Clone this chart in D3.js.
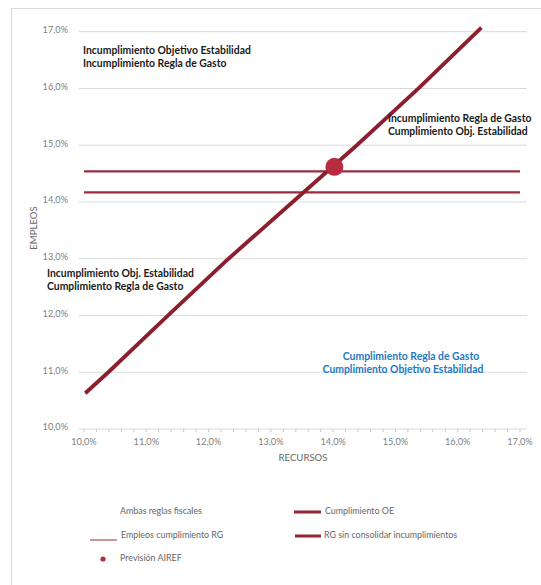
<!DOCTYPE html>
<html>
<head>
<meta charset="utf-8">
<script src="https://cdn.jsdelivr.net/npm/d3@7"></script>
<style>
  body { margin: 0; background: #fff; }
  svg text { font-family: "Lato", "Open Sans", sans-serif; }
</style>
</head>
<body>
<svg id="chart" width="541" height="585"></svg>
<script>
"use strict";

// Values (percent)
var xTicks = [10, 11, 12, 13, 14, 15, 16, 17];
var yTicks = [10, 11, 12, 13, 14, 15, 16, 17];

// Cumplimiento OE (diagonal)
var oeRecursos = [10.02, 10.39, 11.35, 12.32, 13.35, 14.38, 15.37, 16.38];
var oeEmpleos  = [10.63, 11.00, 12.00, 13.00, 14.00, 15.00, 16.00, 17.07];

// horizontal lines: Empleos cumplimiento RG / RG sin consolidar incumplimientos
var rgNames  = ["Empleos cumplimiento RG", "RG sin consolidar incumplimientos"];
var rgValues = [14.54, 14.17];
var rgFrom = 10, rgTo = 17;

// Previsión AIREF
var airefRecursos = 14.02;
var airefEmpleos = 14.62;

var legendNames = ["Ambas reglas fiscales", "Cumplimiento OE", "Empleos cumplimiento RG",
                   "RG sin consolidar incumplimientos", "Previsión AIREF"];

var fmt = function(v) { return d3.format(".1f")(v).replace(".", ",") + "%"; };

var svg = d3.select("#chart");

// frame
svg.append("rect")
	.attr("x", 11.5).attr("y", 8.5)
	.attr("width", 545).attr("height", 600)
	.attr("fill", "none").attr("stroke", "#d9d9d9");

var x = d3.scaleLinear().domain([10, 17]).range([84, 520]);
var y = d3.scaleLinear().domain([10, 17]).range([429, 31.7]);
var gridL = 79, gridR = 527;

// gridlines
svg.append("g").selectAll("line")
	.data(yTicks)
	.enter().append("line")
		.attr("x1", gridL).attr("x2", gridR)
		.attr("y1", function(d) { return y(d); })
		.attr("y2", function(d) { return y(d); })
		.attr("stroke", "#d9d9d9").attr("stroke-width", 1);

// y tick labels
svg.append("g").selectAll("text")
	.data(yTicks)
	.enter().append("text")
		.attr("x", 68)
		.attr("y", function(d) { return y(d) - 1; })
		.attr("text-anchor", "end")
		.attr("dominant-baseline", "middle")
		.attr("font-size", 9.2)
		.attr("fill", "#808080")
		.text(fmt);

// x axis minor ticks
var minor = d3.range(0, 36).map(function(i) { return 10 + i * 0.2; });
svg.append("g").selectAll("line")
	.data(minor)
	.enter().append("line")
		.attr("x1", function(d) { return x(d); })
		.attr("x2", function(d) { return x(d); })
		.attr("y1", y(10)).attr("y2", y(10) + 3)
		.attr("stroke", "#c8c8c8");

svg.append("g").selectAll("text")
	.data(xTicks)
	.enter().append("text")
		.attr("x", function(d) { return x(d); })
		.attr("y", 443)
		.attr("text-anchor", "middle")
		.attr("dominant-baseline", "middle")
		.attr("font-size", 9.2)
		.attr("fill", "#808080")
		.text(fmt);

// axis titles
svg.append("text")
	.attr("x", 303).attr("y", 459)
	.attr("text-anchor", "middle").attr("dominant-baseline", "middle")
	.attr("font-size", 9.6).attr("fill", "#666")
	.text("RECURSOS");
svg.append("text")
	.attr("transform", "translate(35,228) rotate(-90)")
	.attr("text-anchor", "middle").attr("dominant-baseline", "middle")
	.attr("font-size", 9.6).attr("fill", "#666")
	.text("EMPLEOS");

// horizontal RG lines
svg.append("g").selectAll("line")
	.data(rgValues)
	.enter().append("line")
		.attr("x1", x(rgFrom)).attr("x2", x(rgTo))
		.attr("y1", function(d) { return y(d); })
		.attr("y2", function(d) { return y(d); })
		.attr("stroke", "#9a2b3b").attr("stroke-width", 2.2);

// OE diagonal
var pts = oeRecursos.map(function(r, i) { return [r, oeEmpleos[i]]; });
svg.append("path")
	.datum(pts)
	.attr("d", d3.line().x(function(d) { return x(d[0]); }).y(function(d) { return y(d[1]); }))
	.attr("fill", "none")
	.attr("stroke", "#8c1f2e")
	.attr("stroke-width", 3.8);

// AIREF point
svg.append("circle")
	.attr("cx", x(airefRecursos)).attr("cy", y(airefEmpleos))
	.attr("r", 9)
	.attr("fill", "#b82c40");

// annotations (xs: one x per line)
var notes = [
	{ xs: [83, 83], y: 51, lines: ["Incumplimiento Objetivo Estabilidad", "Incumplimiento Regla de Gasto"], anchor: "start", color: "#1a1a1a" },
	{ xs: [388, 388], y: 119, lines: ["Incumplimiento Regla de Gasto", "Cumplimiento Obj. Estabilidad"], anchor: "start", color: "#1a1a1a" },
	{ xs: [47, 47], y: 274, lines: ["Incumplimiento Obj. Estabilidad", "Cumplimiento Regla de Gasto"], anchor: "start", color: "#1a1a1a" },
	{ xs: [411, 403], y: 357, lines: ["Cumplimiento Regla de Gasto", "Cumplimiento Objetivo Estabilidad"], anchor: "middle", color: "#2279c4" }
];
notes.forEach(function(n) {
	var t = svg.append("text")
		.attr("font-size", 10.4).attr("font-weight", "bold")
		.attr("fill", n.color).attr("text-anchor", n.anchor);
	n.lines.forEach(function(l, i) {
		t.append("tspan").attr("x", n.xs[i]).attr("y", n.y + i * 13)
			.attr("dominant-baseline", "middle").text(l);
	});
});

// legend
var leg = [
	{ name: legendNames[0], tx: 120, ty: 512, kind: "none" },
	{ name: legendNames[1], tx: 325, ty: 512, kind: "thick", sx1: 294, sx2: 321 },
	{ name: legendNames[2], tx: 121, ty: 536, kind: "thin", sx1: 90, sx2: 117 },
	{ name: legendNames[3], tx: 324, ty: 536, kind: "thick", sx1: 295, sx2: 321 },
	{ name: legendNames[4], tx: 120, ty: 559, kind: "dot", sx1: 103 }
];
var lg = svg.append("g");
leg.forEach(function(d) {
	if (d.kind === "thick") {
		lg.append("line").attr("x1", d.sx1).attr("x2", d.sx2).attr("y1", d.ty).attr("y2", d.ty)
			.attr("stroke", "#932535").attr("stroke-width", 3);
	} else if (d.kind === "thin") {
		lg.append("line").attr("x1", d.sx1).attr("x2", d.sx2).attr("y1", d.ty + 4).attr("y2", d.ty + 4)
			.attr("stroke", "#9a2b3b").attr("stroke-width", 1);
	} else if (d.kind === "dot") {
		lg.append("circle").attr("cx", d.sx1).attr("cy", d.ty).attr("r", 2.6).attr("fill", "#b82c40");
	}
	lg.append("text")
		.attr("x", d.tx).attr("y", d.ty)
		.attr("dominant-baseline", "middle")
		.attr("font-size", 8.9).attr("fill", "#666")
		.text(d.name);
});
</script>
</body>
</html>
